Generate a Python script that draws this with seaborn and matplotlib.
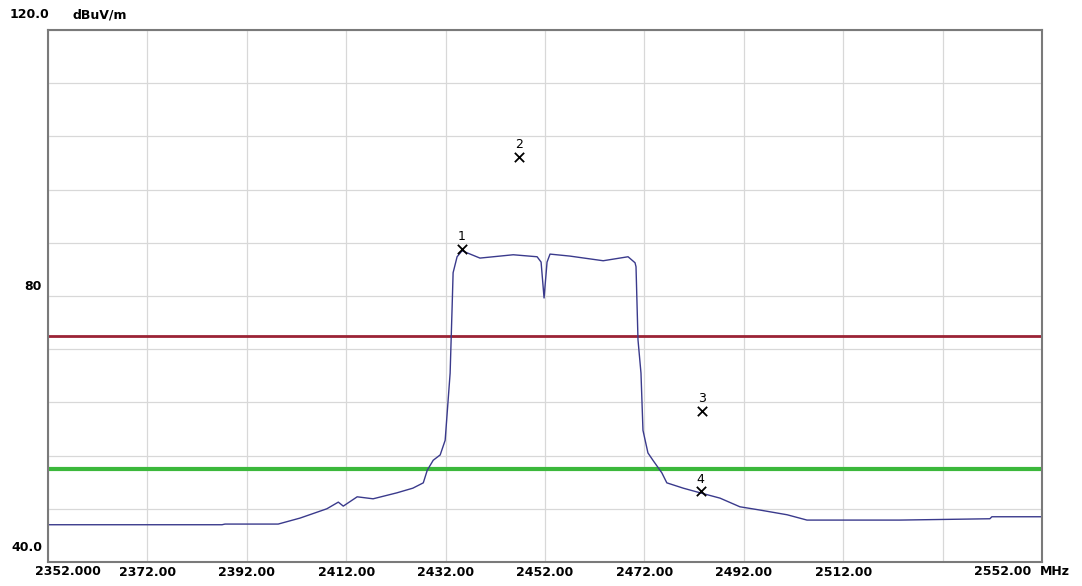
import numpy as np
import pandas as pd
import seaborn as sns
import matplotlib.pyplot as plt
import matplotlib.transforms as mtransforms

sns.set_style('whitegrid')
plt.rcParams['font.family'] = ['DejaVu Sans']
plt.rcParams['text.color'] = 'black'
plt.rcParams['xtick.color'] = 'black'
plt.rcParams['ytick.color'] = 'black'

# trace (MHz, dBuV/m)
freq = [2352.0, 2387.0, 2387.6, 2398.3, 2402.7, 2408.1, 2410.4, 2411.4, 2414.2, 2417.4,
        2422.2, 2425.4, 2427.5, 2428.3, 2429.5, 2430.9, 2431.9, 2432.9, 2433.3, 2433.5,
        2434.3, 2435.3, 2438.9, 2445.6, 2450.4, 2451.2, 2451.8, 2452.4, 2453.0, 2457.0,
        2463.7, 2468.7, 2470.1, 2470.3, 2470.7, 2471.3, 2471.7, 2472.7, 2473.7, 2475.5,
        2476.5, 2479.8, 2483.2, 2487.2, 2491.2, 2495.3, 2500.7, 2504.7, 2523.4, 2541.5,
        2541.9, 2552.0]
level = [45.6, 45.6, 45.7, 45.7, 46.6, 48.0, 49.0, 48.4, 49.8, 49.5,
         50.4, 51.1, 51.9, 53.8, 55.3, 56.1, 58.3, 68.4, 78.3, 83.5,
         85.9, 86.8, 85.7, 86.2, 85.9, 85.1, 79.7, 85.1, 86.3, 86.0,
         85.3, 85.9, 85.0, 84.4, 73.4, 68.4, 59.8, 56.4, 55.3, 53.4,
         51.9, 51.1, 50.4, 49.6, 48.3, 47.8, 47.1, 46.3, 46.3, 46.5,
         46.8, 46.8]

# markers
mk_id = ['1', '2', '3', '4']
mk_freq = [2435.3, 2446.8, 2483.5, 2483.3]
mk_level = [87.1, 100.9, 62.7, 50.6]

# limit lines
peak_limit = 74
avg_limit = 54

xticks = [2352, 2372, 2392, 2412, 2432, 2452, 2472, 2492, 2512, 2532, 2552]
xlabels = ['', '2372.00', '2392.00', '2412.00', '2432.00', '2452.00', '2472.00',
           '2492.00', '2512.00', '', '']

trace = pd.DataFrame({'freq': freq, 'level': level})
markers = pd.DataFrame({'id': mk_id, 'freq': mk_freq, 'level': mk_level})

fig = plt.figure(figsize=(10.82, 5.86), dpi=100)
ax = fig.add_axes([0.0444, 0.041, 0.9187, 0.9078])

ax.axhline(peak_limit, color='#9b2335', linewidth=2)
ax.axhline(avg_limit, color='#3cb83c', linewidth=3)
sns.lineplot(data=trace, x='freq', y='level', ax=ax, sort=False, estimator=None,
             color='#3a3a8c', linewidth=1)
sns.scatterplot(data=markers, x='freq', y='level', ax=ax, marker='x', color='black',
                s=45, linewidth=1.3, zorder=5)
for _, r in markers.iterrows():
    ax.annotate(r['id'], (r['freq'], r['level']), xytext=(0, 4), textcoords='offset points',
                ha='center', va='bottom', fontsize=9)

ax.set_xlim(2352, 2552)
ax.set_ylim(40, 120)
ax.set_xticks(xticks)
ax.set_xticklabels(xlabels, fontsize=9, fontweight='bold')
ax.set_yticks(np.arange(40, 121, 8))
ax.set_yticklabels([])
ax.tick_params(length=0, pad=3)
ax.set_xlabel('')
ax.set_ylabel('')
ax.grid(True, color='#d8d8d8', linewidth=0.9)
for s in ax.spines.values():
    s.set_color('#7a7a7a')
    s.set_linewidth(1.5)

# extra axis texts like the analyser printout
tr = mtransforms.blended_transform_factory(ax.transAxes, ax.transData)
ax.text(-0.006, 42.2, '40.0', transform=tr, ha='right', va='center', fontsize=9, fontweight='bold')
ax.text(-0.006, 81.5, '80', transform=tr, ha='right', va='center', fontsize=9, fontweight='bold')
fig.text(0.009, 0.975, '120.0', ha='left', va='center', fontsize=9, fontweight='bold')
fig.text(0.067, 0.975, 'dBuV/m', ha='left', va='center', fontsize=9, fontweight='bold')
fig.text(0.032, 0.024, '2352.000', ha='left', va='center', fontsize=9, fontweight='bold')
fig.text(0.9535, 0.024, '2552.00', ha='right', va='center', fontsize=9, fontweight='bold')
fig.text(0.961, 0.024, 'MHz', ha='left', va='center', fontsize=9, fontweight='bold')

fig.savefig('out.png', dpi=100)
